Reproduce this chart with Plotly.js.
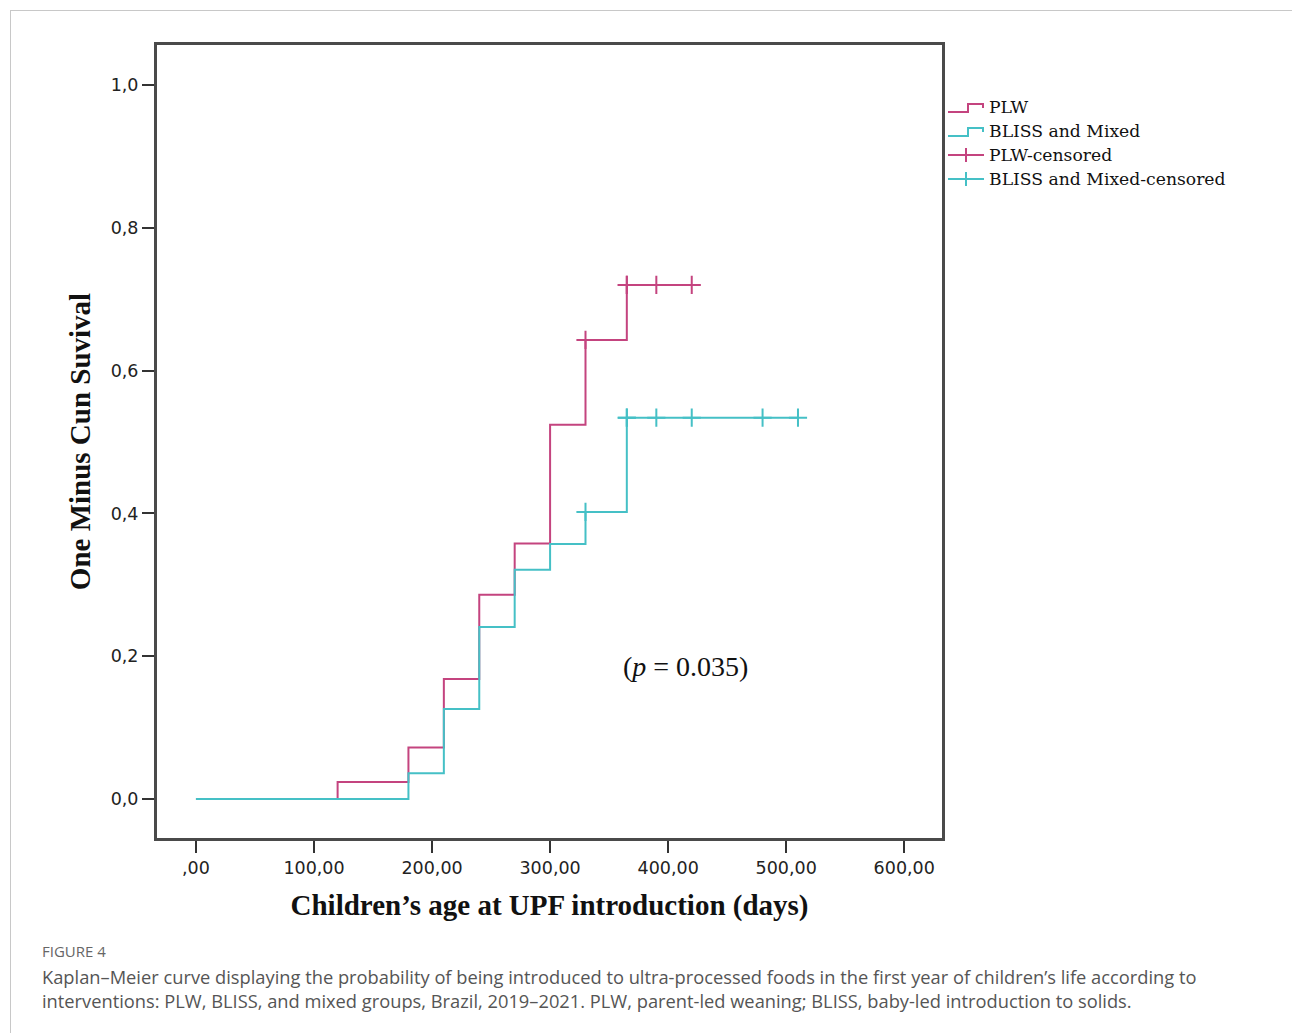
<!DOCTYPE html>
<html>
<head>
<meta charset="utf-8">
<script src="https://cdn.plot.ly/plotly-3.0.1.min.js"></script>
<style>
  html, body { margin: 0; padding: 0; background: #fff; }
  #frame { position: absolute; left: 10px; top: 10px; width: 1320px; height: 1100px; border: 1px solid #c8c8c8; }
  #chart { position: absolute; left: 0; top: 0; width: 1292px; height: 1033px; }
</style>
</head>
<body>
<div id="frame"></div>
<div id="chart"></div>
<script>
// Kaplan–Meier step data (one minus cumulative survival)
const plwTimes = [0, 120, 180, 210, 240, 270, 300, 330, 365, 420];
const plwValues = [0, 0.024, 0.072, 0.168, 0.286, 0.358, 0.524, 0.643, 0.72, 0.72];
const blissTimes = [0, 180, 210, 240, 270, 300, 330, 365, 510];
const blissValues = [0, 0.036, 0.126, 0.241, 0.321, 0.357, 0.402, 0.534, 0.534];

// Censored observations
const plwCensorTimes = [330, 365, 365, 390, 420];
const plwCensorValues = [0.643, 0.72, 0.72, 0.72, 0.72];
const blissCensorTimes = [330, 365, 365, 390, 420, 480, 510];
const blissCensorValues = [0.402, 0.534, 0.534, 0.534, 0.534, 0.534, 0.534];

// Tick labels
const xTickVals = [0, 100, 200, 300, 400, 500, 600];
const xTickText = [",00", "100,00", "200,00", "300,00", "400,00", "500,00", "600,00"];
const yTickVals = [0, 0.2, 0.4, 0.6, 0.8, 1.0];
const yTickText = ["0,0", "0,2", "0,4", "0,6", "0,8", "1,0"];

const seriesNames = ["PLW", "BLISS and Mixed", "PLW-censored", "BLISS and Mixed-censored"];
const pink = "#c4447f";
const teal = "#45c0c6";
const seriesColors = [pink, teal, pink, teal];

const traces = [
  { x: plwTimes, y: plwValues, name: seriesNames[0], type: "scatter", mode: "lines",
    line: { shape: "hv", color: pink, width: 2 } },
  { x: blissTimes, y: blissValues, name: seriesNames[1], type: "scatter", mode: "lines",
    line: { shape: "hv", color: teal, width: 2 } },
  { x: plwCensorTimes, y: plwCensorValues, name: seriesNames[2], type: "scatter", mode: "markers",
    marker: { symbol: "cross-thin-open", size: 13, color: pink, line: { color: pink, width: 2 } } },
  { x: blissCensorTimes, y: blissCensorValues, name: seriesNames[3], type: "scatter", mode: "markers",
    marker: { symbol: "cross-thin-open", size: 13, color: teal, line: { color: teal, width: 2 } } }
];

const tickFont = { family: "DejaVu Sans", size: 17.5, color: "#222" };
const titleFont = { family: "Liberation Serif, serif", size: 29, color: "#111", weight: "bold" };

const W = 1292, H = 1033, ML = 157, MR = 350, MT = 45, MB = 195;
const plotW = W - ML - MR, plotH = H - MT - MB;
function px(xp) { return (xp - ML) / plotW; }
function py(yp) { return (H - MB - yp) / plotH; }

const annotations = [
  { x: 415, y: 0.185, xref: "x", yref: "y", showarrow: false,
    text: "(<i>p</i> = 0.035)",
    font: { family: "Liberation Serif, serif", size: 28, color: "#111" } },
  { x: px(40), y: py(951), xref: "paper", yref: "paper", xanchor: "left", yanchor: "middle",
    showarrow: false, text: "FIGURE 4",
    font: { family: "Open Sans, sans-serif", size: 15, color: "#666" } },
  { x: px(40), y: py(988), xref: "paper", yref: "paper", xanchor: "left", yanchor: "middle",
    showarrow: false, align: "left",
    text: "Kaplan–Meier curve displaying the probability of being introduced to ultra-processed foods in the first year of children’s life according to<br>interventions: PLW, BLISS, and mixed groups, Brazil, 2019–2021. PLW, parent-led weaning; BLISS, baby-led introduction to solids.",
    font: { family: "Open Sans, sans-serif", size: 18.3, color: "#555" } }
];

// manual legend (step icons for curves, plus-line icons for censored)
const shapes = [];
const legendY = [107, 131, 155, 179];
seriesNames.forEach(function (name, i) {
  const yc = legendY[i];
  const c = seriesColors[i];
  annotations.push({ x: px(987), y: py(yc), xref: "paper", yref: "paper", xanchor: "left", yanchor: "middle",
    showarrow: false, text: name, font: { family: "DejaVu Serif, serif", size: 17.2, color: "#111" } });
  if (i < 2) {
    shapes.push({ type: "path", xref: "paper", yref: "paper",
      path: "M " + px(948) + "," + py(yc + 5) + " L " + px(968) + "," + py(yc + 5) +
            " L " + px(968) + "," + py(yc - 3) + " L " + px(983) + "," + py(yc - 3) +
            " L " + px(983) + "," + py(yc + 1),
      line: { color: c, width: 2 } });
  } else {
    shapes.push({ type: "line", xref: "paper", yref: "paper",
      x0: px(948), x1: px(984), y0: py(yc), y1: py(yc), line: { color: c, width: 2 } });
    shapes.push({ type: "line", xref: "paper", yref: "paper",
      x0: px(966), x1: px(966), y0: py(yc - 7), y1: py(yc + 7), line: { color: c, width: 2 } });
  }
});

const layout = {
  width: W, height: H,
  margin: { l: ML, r: MR, t: MT, b: MB },
  paper_bgcolor: "rgba(0,0,0,0)",
  plot_bgcolor: "#fff",
  showlegend: false,
  xaxis: {
    range: [-33, 632], tickvals: xTickVals, ticktext: xTickText,
    showgrid: false, zeroline: false,
    showline: true, mirror: true, linecolor: "#4a4a4a", linewidth: 3,
    ticks: "outside", ticklen: 12, tickwidth: 2, tickcolor: "#333",
    tickfont: tickFont,
    title: { text: "Children’s age at UPF introduction (days)", standoff: 18, font: titleFont }
  },
  yaxis: {
    range: [-0.0546, 1.056], tickvals: yTickVals, ticktext: yTickText,
    showgrid: false, zeroline: false,
    showline: true, mirror: true, linecolor: "#4a4a4a", linewidth: 3,
    ticks: "outside", ticklen: 12, tickwidth: 2, tickcolor: "#333",
    tickfont: tickFont,
    title: { text: "One Minus Cun Suvival", standoff: 12, font: titleFont }
  },
  annotations: annotations,
  shapes: shapes
};

Plotly.newPlot("chart", traces, layout, { displayModeBar: false, staticPlot: true });
</script>
</body>
</html>
